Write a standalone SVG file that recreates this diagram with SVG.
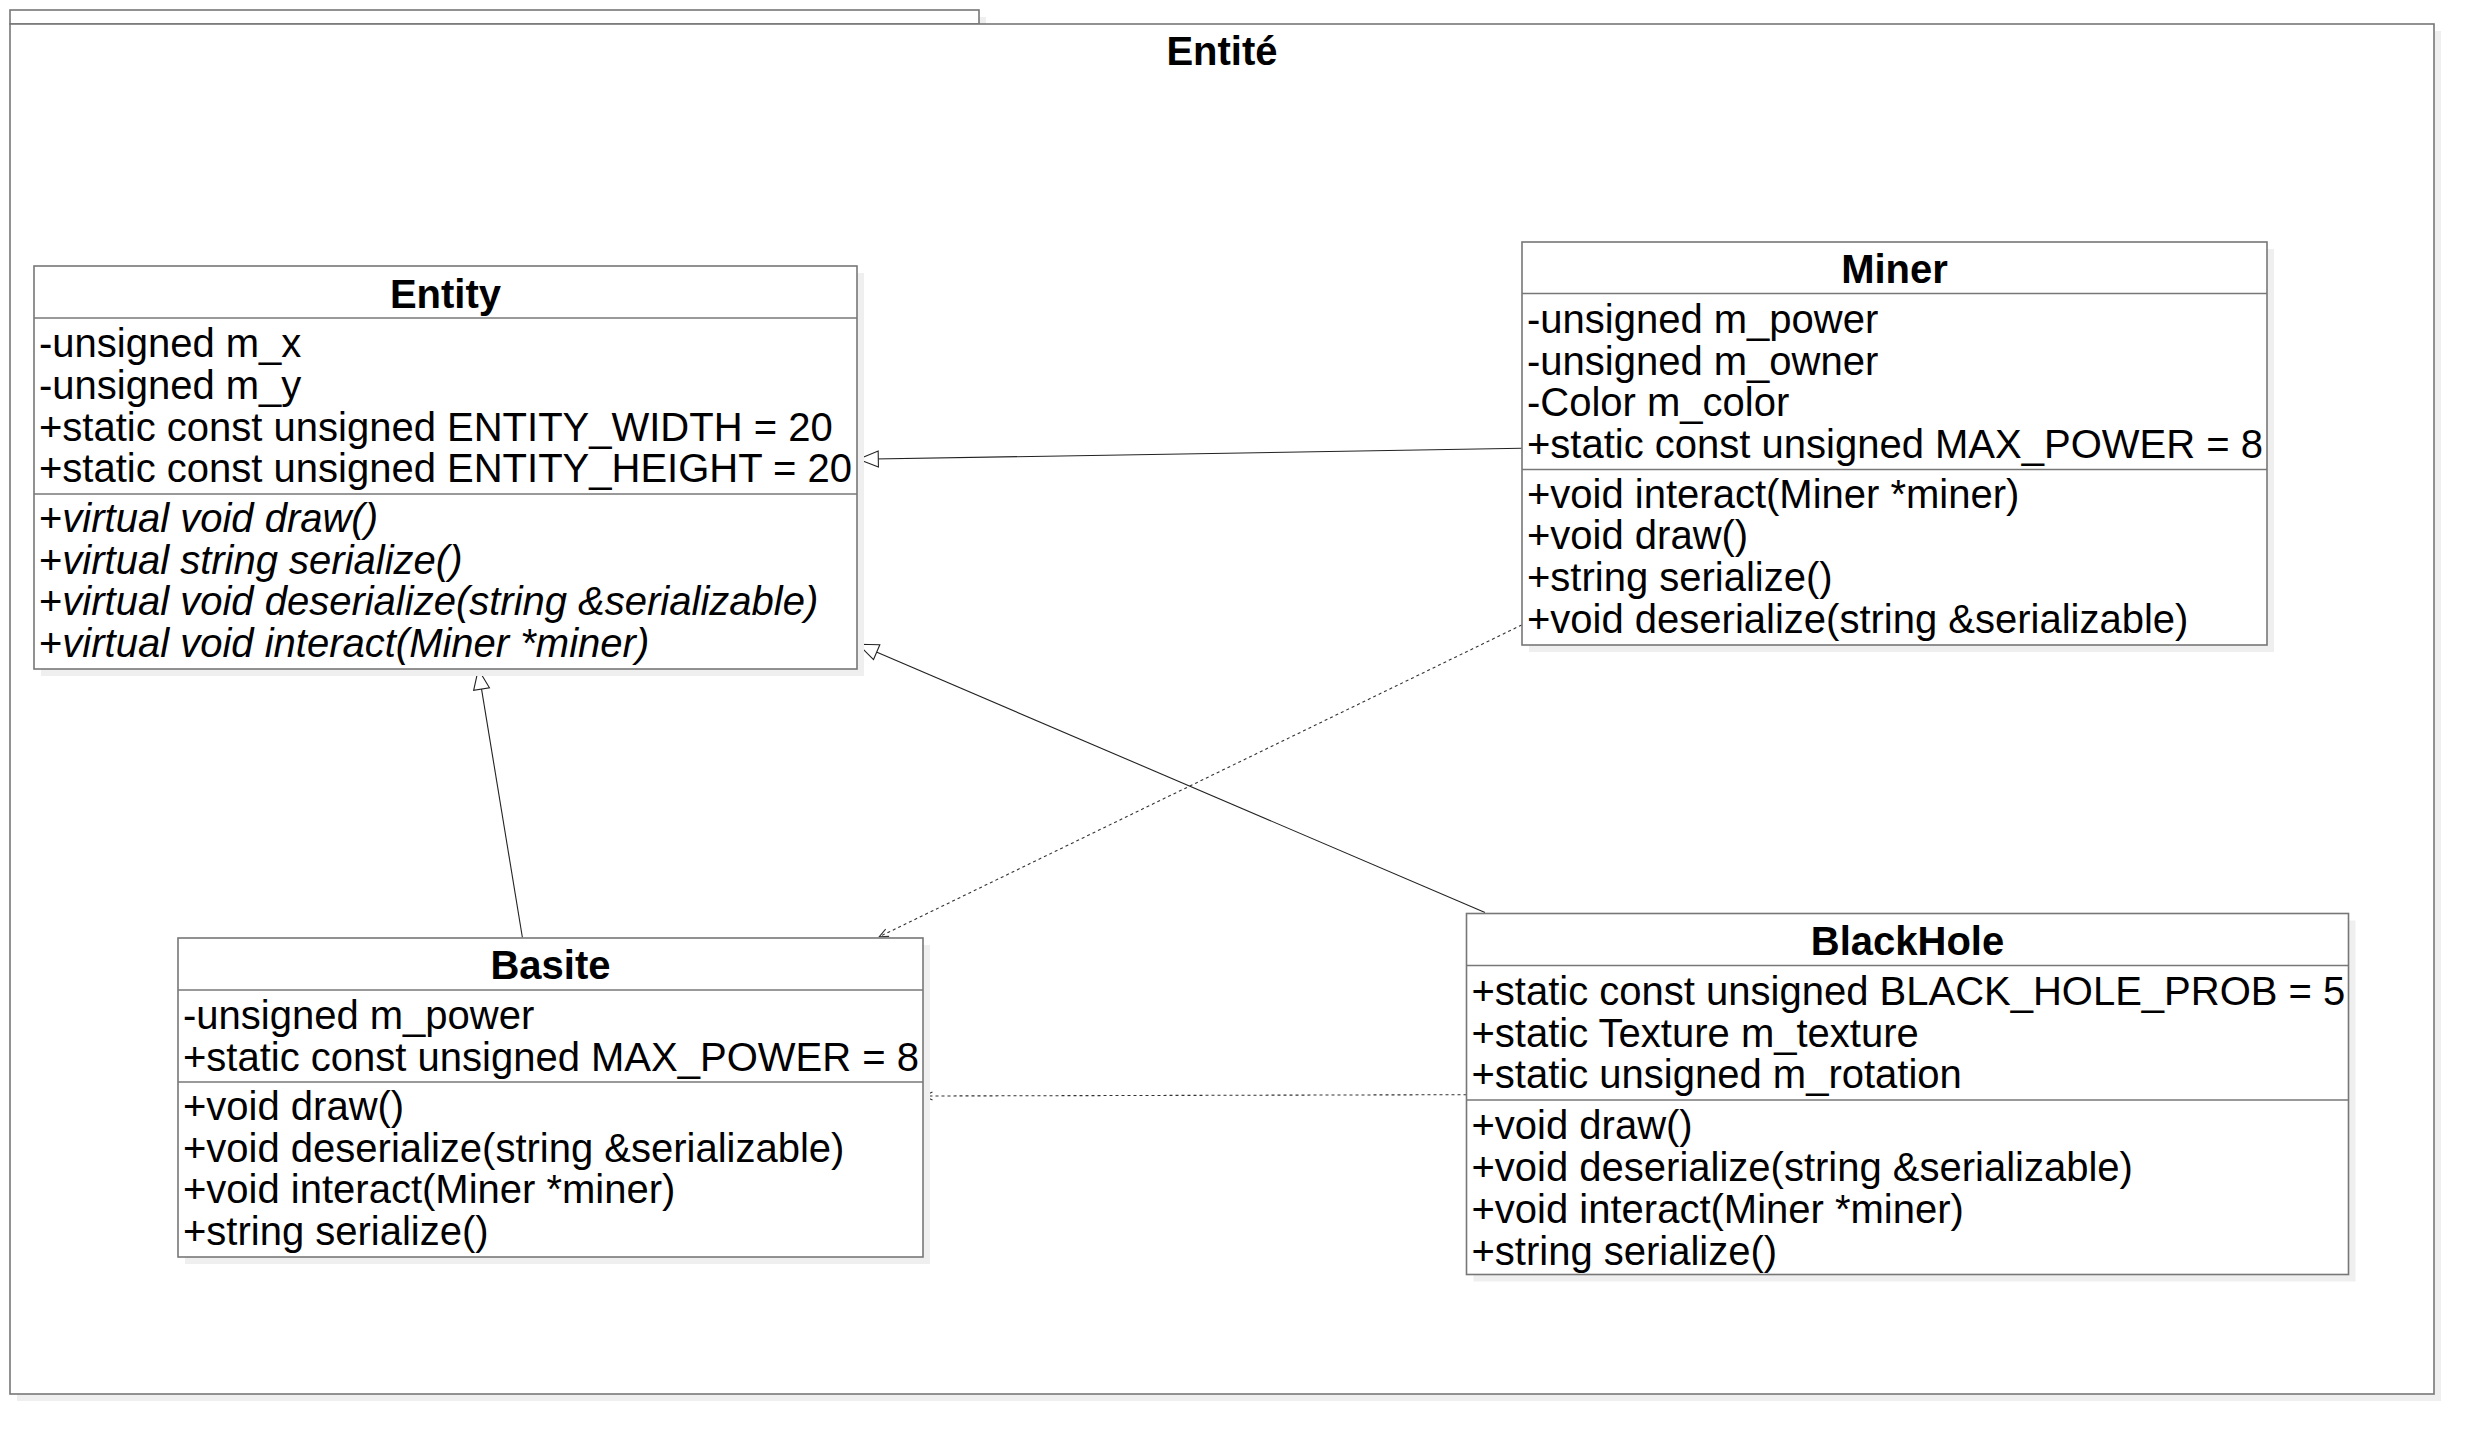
<svg xmlns="http://www.w3.org/2000/svg" width="2474" height="1434" viewBox="0 0 2474 1434">
<style>
  .shadow { fill: #efefef; stroke: none; }
  .box { fill: #ffffff; stroke: #777777; stroke-width: 1.6; }
  .sep { stroke: #777777; stroke-width: 1.6; fill: none; }
  .title { font-family: "Liberation Sans", Arial, sans-serif; font-size: 40px; font-weight: bold; fill: #000; text-anchor: middle; }
  .txt { font-family: "Liberation Sans", Arial, sans-serif; font-size: 40px; fill: #000; }
  .ital { font-style: italic; }
  .inh { stroke: #222; stroke-width: 1.1; fill: none; marker-end: url(#tri); }
  .dep { stroke: #333; stroke-width: 1.1; fill: none; stroke-dasharray: 3 3; marker-end: url(#open); }
</style>
<defs>
  <marker id="tri" markerUnits="userSpaceOnUse" markerWidth="22" markerHeight="18" refX="20" refY="8" orient="auto" overflow="visible">
    <path d="M0,0 L20,8 L0,16 Z" fill="#ffffff" stroke="#222" stroke-width="1.1"/>
  </marker>
  <marker id="open" markerUnits="userSpaceOnUse" markerWidth="12" markerHeight="10" refX="9" refY="4" orient="auto" overflow="visible">
    <path d="M0,0 L9,4 L0,8" fill="none" stroke="#333" stroke-width="1.1"/>
  </marker>
</defs>
<rect width="2474" height="1434" fill="#ffffff"/>

<g id="package">
  <rect class="shadow" x="17" y="17" width="969" height="14"/>
  <rect class="shadow" x="17" y="31" width="2424" height="1370"/>
  <rect class="box" x="10" y="10" width="969" height="14"/>
  <rect class="box" x="10" y="24" width="2424" height="1370"/>
  <text class="title" x="1222" y="65">Entité</text>
</g>

<g id="connectors">
  <line class="inh" x1="1521.7" y1="448.3" x2="858.3" y2="459.3"/>
  <line class="inh" x1="1485" y1="912.5" x2="858.3" y2="644.3"/>
  <line class="inh" x1="522.4" y1="937.5" x2="478.3" y2="669.3"/>
  <line class="dep" x1="1521.7" y1="625" x2="879.3" y2="936.7"/>
  <line class="dep" x1="1466.5" y1="1094.7" x2="923.5" y2="1096"/>
</g>

<g id="entity">
  <rect class="shadow" x="41" y="273" width="823" height="403"/>
  <rect class="box" x="34" y="266" width="823" height="403"/>
  <line class="sep" x1="34" y1="318" x2="857" y2="318"/>
  <line class="sep" x1="34" y1="494" x2="857" y2="494"/>
  <text class="title" x="445.5" y="307.5">Entity</text>
  <text class="txt" x="39" y="357.3">-unsigned m_x</text>
  <text class="txt" x="39" y="399">-unsigned m_y</text>
  <text class="txt" x="39" y="440.7">+static const unsigned ENTITY_WIDTH = 20</text>
  <text class="txt" x="39" y="482.4">+static const unsigned ENTITY_HEIGHT = 20</text>
  <text class="txt" x="39" y="532">+<tspan class="ital">virtual void draw()</tspan></text>
  <text class="txt" x="39" y="573.7">+<tspan class="ital">virtual string serialize()</tspan></text>
  <text class="txt" x="39" y="615.4">+<tspan class="ital">virtual void deserialize(string &amp;serializable)</tspan></text>
  <text class="txt" x="39" y="657.1">+<tspan class="ital">virtual void interact(Miner *miner)</tspan></text>
</g>

<g id="miner">
  <rect class="shadow" x="1529" y="249" width="745" height="403"/>
  <rect class="box" x="1522" y="242" width="745" height="403"/>
  <line class="sep" x1="1522" y1="293.5" x2="2267" y2="293.5"/>
  <line class="sep" x1="1522" y1="469.5" x2="2267" y2="469.5"/>
  <text class="title" x="1894.5" y="282.5">Miner</text>
  <text class="txt" x="1527" y="332.8">-unsigned m_power</text>
  <text class="txt" x="1527" y="374.5">-unsigned m_owner</text>
  <text class="txt" x="1527" y="416.2">-Color m_color</text>
  <text class="txt" x="1527" y="457.9">+static const unsigned MAX_POWER = 8</text>
  <text class="txt" x="1527" y="507.5">+void interact(Miner *miner)</text>
  <text class="txt" x="1527" y="549.2">+void draw()</text>
  <text class="txt" x="1527" y="590.9">+string serialize()</text>
  <text class="txt" x="1527" y="632.6">+void deserialize(string &amp;serializable)</text>
</g>

<g id="basite">
  <rect class="shadow" x="185" y="945" width="745" height="319"/>
  <rect class="box" x="178" y="938" width="745" height="319"/>
  <line class="sep" x1="178" y1="990" x2="923" y2="990"/>
  <line class="sep" x1="178" y1="1082" x2="923" y2="1082"/>
  <text class="title" x="550.5" y="978.5">Basite</text>
  <text class="txt" x="183" y="1028.8">-unsigned m_power</text>
  <text class="txt" x="183" y="1070.5">+static const unsigned MAX_POWER = 8</text>
  <text class="txt" x="183" y="1120">+void draw()</text>
  <text class="txt" x="183" y="1161.7">+void deserialize(string &amp;serializable)</text>
  <text class="txt" x="183" y="1203.4">+void interact(Miner *miner)</text>
  <text class="txt" x="183" y="1245.1">+string serialize()</text>
</g>

<g id="blackhole">
  <rect class="shadow" x="1473.5" y="920.5" width="882" height="361"/>
  <rect class="box" x="1466.5" y="913.5" width="882" height="361"/>
  <line class="sep" x1="1466.5" y1="965.5" x2="2348.5" y2="965.5"/>
  <line class="sep" x1="1466.5" y1="1100" x2="2348.5" y2="1100"/>
  <text class="title" x="1907.5" y="954.5">BlackHole</text>
  <text class="txt" x="1471.5" y="1004.8">+static const unsigned BLACK_HOLE_PROB = 5</text>
  <text class="txt" x="1471.5" y="1046.5">+static Texture m_texture</text>
  <text class="txt" x="1471.5" y="1088.2">+static unsigned m_rotation</text>
  <text class="txt" x="1471.5" y="1138.5">+void draw()</text>
  <text class="txt" x="1471.5" y="1180.8">+void deserialize(string &amp;serializable)</text>
  <text class="txt" x="1471.5" y="1223">+void interact(Miner *miner)</text>
  <text class="txt" x="1471.5" y="1265.3">+string serialize()</text>
</g>
</svg>
